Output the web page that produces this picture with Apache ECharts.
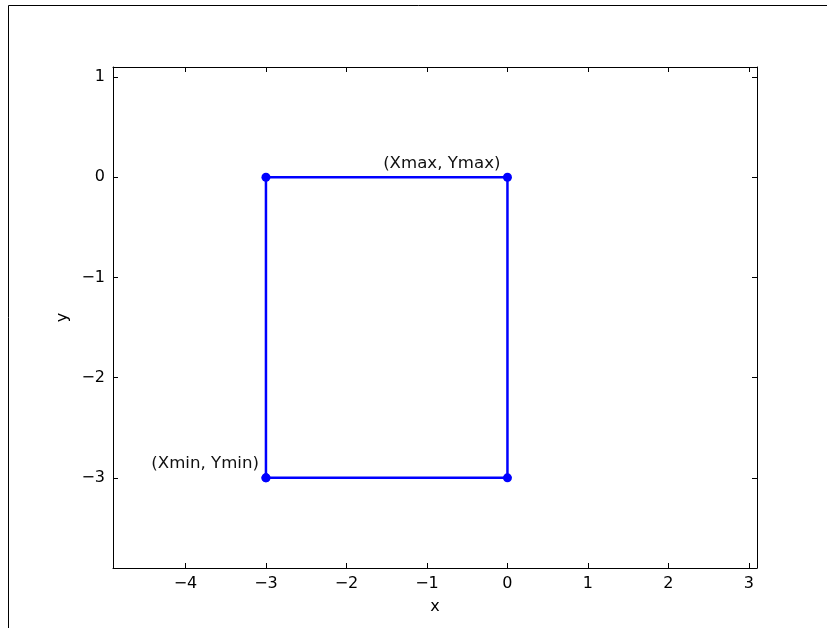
<!DOCTYPE html>
<html><head><meta charset="utf-8">
<script src="https://cdn.jsdelivr.net/npm/echarts@6/dist/echarts.min.js"></script>
<style>html,body{margin:0;padding:0;background:#fff}#c{width:827px;height:628px}</style>
</head><body><div id="c"></div>
<script>
const xs = [-3, -3, 0, 0, -3];
const ys = [-3, 0, 0, -3, -3];
const labels = ['(Xmin, Ymin)', '', '(Xmax, Ymax)', '', ''];
const xTicks = [-4, -3, -2, -1, 0, 1, 2, 3];
const yTicks = [-3, -2, -1, 0, 1];
const xRange = [-4.9, 3.1];
const yRange = [-3.9, 1.1];

const FONT = 'DejaVu Sans';
const fmt = v => String(v).replace('-', '\u2212');
function axis(pos, show, name, isX) {
  const ticks = isX ? xTicks : yTicks;
  const r = isX ? xRange : yRange;
  return {
    type: 'value', position: pos, min: r[0], max: r[1],
    name: show ? name : '', nameLocation: 'middle', nameGap: isX ? 31 : 40,
    nameTextStyle: {color: '#000', fontFamily: FONT, fontSize: 16},
    axisLine: {show: true, onZero: false, lineStyle: {color: '#000', width: 1}},
    axisTick: {show: true, inside: true, length: 5, customValues: ticks, lineStyle: {color: '#000'}},
    axisLabel: {show: show, customValues: ticks, margin: 8, color: '#000', fontFamily: FONT, fontSize: 16, formatter: fmt},
    splitLine: {show: false}
  };
}
const data = xs.map((x, i) => ({
  value: [x, ys[i]],
  label: {show: labels[i] !== '', formatter: labels[i], position: 'top', align: 'right', offset: [-7, 4],
          color: '#111', fontFamily: FONT, fontSize: 16.6}
}));
const chart = echarts.init(document.getElementById('c'));
chart.setOption({
  animation: false,
  grid: {left: 113, top: 67, right: 70, bottom: 60},
  xAxis: [axis('bottom', true, 'x', true), axis('top', false, '', true)],
  yAxis: [axis('left', true, 'y', false), axis('right', false, '', false)],
  graphic: [{type: 'rect', shape: {x: 8.5, y: 5.5, width: 900, height: 700}, style: {fill: 'none', stroke: '#000', lineWidth: 1}, silent: true}],
  series: [{
    type: 'line', data: data, symbol: 'circle', symbolSize: 9, showAllSymbol: true,
    lineStyle: {color: '#0000ff', width: 2.5}, itemStyle: {color: '#0000ff'}
  }]
});
</script></body></html>
